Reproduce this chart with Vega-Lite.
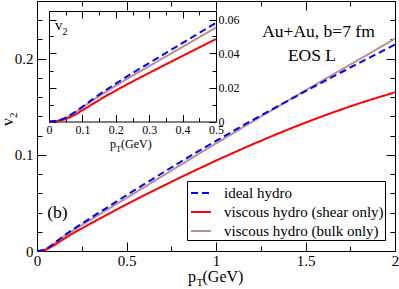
{
  "$schema": "https://vega.github.io/schema/vega-lite/v6.json",
  "width": 358,
  "height": 250,
  "autosize": {"type": "none"},
  "padding": {"left": 37, "top": 1, "right": 4, "bottom": 38},
  "background": "white",
  "config": {
    "view": {"stroke": "black", "strokeWidth": 1},
    "axis": {"grid": false, "labelFont": "Liberation Serif", "labelColor": "black", "tickColor": "black", "domainColor": "black", "tickWidth": 1, "domainWidth": 1, "labelFlush": false, "labelOverlap": false},
    "legend": {"labelFont": "Liberation Serif"},
    "style": {"guide-label": {"font": "Liberation Serif"}},
    "text": {"font": "Liberation Serif", "color": "black"}
  },
  "datasets": {
    "curves": [
      {"pT": 0, "v2": 0, "model": "viscous hydro (bulk only)"},
      {"pT": 0.025, "v2": 0.0005, "model": "viscous hydro (bulk only)"},
      {"pT": 0.05, "v2": 0.0021, "model": "viscous hydro (bulk only)"},
      {"pT": 0.075, "v2": 0.0049, "model": "viscous hydro (bulk only)"},
      {"pT": 0.1, "v2": 0.0082, "model": "viscous hydro (bulk only)"},
      {"pT": 0.125, "v2": 0.0116, "model": "viscous hydro (bulk only)"},
      {"pT": 0.15, "v2": 0.0149, "model": "viscous hydro (bulk only)"},
      {"pT": 0.2, "v2": 0.0210, "model": "viscous hydro (bulk only)"},
      {"pT": 0.25, "v2": 0.0269, "model": "viscous hydro (bulk only)"},
      {"pT": 0.3, "v2": 0.0326, "model": "viscous hydro (bulk only)"},
      {"pT": 0.4, "v2": 0.0439, "model": "viscous hydro (bulk only)"},
      {"pT": 0.5, "v2": 0.0552, "model": "viscous hydro (bulk only)"},
      {"pT": 0.6, "v2": 0.0665, "model": "viscous hydro (bulk only)"},
      {"pT": 0.7, "v2": 0.0779, "model": "viscous hydro (bulk only)"},
      {"pT": 0.8, "v2": 0.0893, "model": "viscous hydro (bulk only)"},
      {"pT": 0.9, "v2": 0.1006, "model": "viscous hydro (bulk only)"},
      {"pT": 1.0, "v2": 0.1118, "model": "viscous hydro (bulk only)"},
      {"pT": 1.1, "v2": 0.1230, "model": "viscous hydro (bulk only)"},
      {"pT": 1.2, "v2": 0.1341, "model": "viscous hydro (bulk only)"},
      {"pT": 1.3, "v2": 0.1452, "model": "viscous hydro (bulk only)"},
      {"pT": 1.4, "v2": 0.1561, "model": "viscous hydro (bulk only)"},
      {"pT": 1.5, "v2": 0.1670, "model": "viscous hydro (bulk only)"},
      {"pT": 1.6, "v2": 0.1778, "model": "viscous hydro (bulk only)"},
      {"pT": 1.7, "v2": 0.1886, "model": "viscous hydro (bulk only)"},
      {"pT": 1.8, "v2": 0.1993, "model": "viscous hydro (bulk only)"},
      {"pT": 1.9, "v2": 0.2100, "model": "viscous hydro (bulk only)"},
      {"pT": 2.0, "v2": 0.2207, "model": "viscous hydro (bulk only)"},
      {"pT": 0, "v2": 0, "model": "viscous hydro (shear only)"},
      {"pT": 0.025, "v2": 0.0003, "model": "viscous hydro (shear only)"},
      {"pT": 0.05, "v2": 0.0015, "model": "viscous hydro (shear only)"},
      {"pT": 0.075, "v2": 0.0037, "model": "viscous hydro (shear only)"},
      {"pT": 0.1, "v2": 0.0066, "model": "viscous hydro (shear only)"},
      {"pT": 0.125, "v2": 0.0096, "model": "viscous hydro (shear only)"},
      {"pT": 0.15, "v2": 0.0126, "model": "viscous hydro (shear only)"},
      {"pT": 0.2, "v2": 0.0182, "model": "viscous hydro (shear only)"},
      {"pT": 0.25, "v2": 0.0235, "model": "viscous hydro (shear only)"},
      {"pT": 0.3, "v2": 0.0286, "model": "viscous hydro (shear only)"},
      {"pT": 0.4, "v2": 0.0386, "model": "viscous hydro (shear only)"},
      {"pT": 0.5, "v2": 0.0485, "model": "viscous hydro (shear only)"},
      {"pT": 0.6, "v2": 0.0580, "model": "viscous hydro (shear only)"},
      {"pT": 0.7, "v2": 0.0673, "model": "viscous hydro (shear only)"},
      {"pT": 0.8, "v2": 0.0764, "model": "viscous hydro (shear only)"},
      {"pT": 0.9, "v2": 0.0853, "model": "viscous hydro (shear only)"},
      {"pT": 1.0, "v2": 0.0940, "model": "viscous hydro (shear only)"},
      {"pT": 1.1, "v2": 0.1024, "model": "viscous hydro (shear only)"},
      {"pT": 1.2, "v2": 0.1106, "model": "viscous hydro (shear only)"},
      {"pT": 1.3, "v2": 0.1185, "model": "viscous hydro (shear only)"},
      {"pT": 1.4, "v2": 0.1262, "model": "viscous hydro (shear only)"},
      {"pT": 1.5, "v2": 0.1335, "model": "viscous hydro (shear only)"},
      {"pT": 1.6, "v2": 0.1405, "model": "viscous hydro (shear only)"},
      {"pT": 1.7, "v2": 0.1472, "model": "viscous hydro (shear only)"},
      {"pT": 1.8, "v2": 0.1535, "model": "viscous hydro (shear only)"},
      {"pT": 1.9, "v2": 0.1594, "model": "viscous hydro (shear only)"},
      {"pT": 2.0, "v2": 0.1650, "model": "viscous hydro (shear only)"},
      {"pT": 0, "v2": 0, "model": "ideal hydro"},
      {"pT": 0.025, "v2": 0.0005, "model": "ideal hydro"},
      {"pT": 0.05, "v2": 0.0023, "model": "ideal hydro"},
      {"pT": 0.075, "v2": 0.0052, "model": "ideal hydro"},
      {"pT": 0.1, "v2": 0.0087, "model": "ideal hydro"},
      {"pT": 0.125, "v2": 0.0123, "model": "ideal hydro"},
      {"pT": 0.15, "v2": 0.0158, "model": "ideal hydro"},
      {"pT": 0.2, "v2": 0.0223, "model": "ideal hydro"},
      {"pT": 0.25, "v2": 0.0285, "model": "ideal hydro"},
      {"pT": 0.3, "v2": 0.0344, "model": "ideal hydro"},
      {"pT": 0.4, "v2": 0.0462, "model": "ideal hydro"},
      {"pT": 0.5, "v2": 0.0580, "model": "ideal hydro"},
      {"pT": 0.6, "v2": 0.0696, "model": "ideal hydro"},
      {"pT": 0.7, "v2": 0.0811, "model": "ideal hydro"},
      {"pT": 0.8, "v2": 0.0925, "model": "ideal hydro"},
      {"pT": 0.9, "v2": 0.1036, "model": "ideal hydro"},
      {"pT": 1.0, "v2": 0.1145, "model": "ideal hydro"},
      {"pT": 1.1, "v2": 0.1252, "model": "ideal hydro"},
      {"pT": 1.2, "v2": 0.1357, "model": "ideal hydro"},
      {"pT": 1.3, "v2": 0.1460, "model": "ideal hydro"},
      {"pT": 1.4, "v2": 0.1562, "model": "ideal hydro"},
      {"pT": 1.5, "v2": 0.1662, "model": "ideal hydro"},
      {"pT": 1.6, "v2": 0.1761, "model": "ideal hydro"},
      {"pT": 1.7, "v2": 0.1859, "model": "ideal hydro"},
      {"pT": 1.8, "v2": 0.1956, "model": "ideal hydro"},
      {"pT": 1.9, "v2": 0.2052, "model": "ideal hydro"},
      {"pT": 2.0, "v2": 0.2147, "model": "ideal hydro"}
    ]
  },
  "layer": [
    {
      "layer": [
        {
          "data": {"name": "curves"},
          "mark": {"type": "line", "strokeWidth": 2, "interpolate": "monotone"},
          "encoding": {
            "x": {"field": "pT", "type": "quantitative", "scale": {"domain": [0, 2]},
              "axis": {"orient": "bottom", "title": null, "values": [0, 0.25, 0.5, 0.75, 1, 1.25, 1.5, 1.75, 2], "format": "~g",
                "labelExpr": "datum.value*2 == round(datum.value*2) ? datum.label : ''",
                "tickSize": {"condition": {"test": "datum.value*2 == round(datum.value*2)", "value": -9}, "value": -5},
                "domain": false, "labelFont": "Liberation Serif", "labelFontSize": 15, "labelPadding": 11, "labelFlush": false, "labelOverlap": false}},
            "y": {"field": "v2", "type": "quantitative", "scale": {"domain": [0, 0.26]},
              "axis": {"orient": "left", "title": null, "values": [0, 0.02, 0.04, 0.06, 0.08, 0.1, 0.12, 0.14, 0.16, 0.18, 0.2, 0.22, 0.24], "format": "~g",
                "labelExpr": "abs(datum.value*10 - round(datum.value*10)) < 1e-6 ? datum.label : ''",
                "tickSize": {"condition": {"test": "abs(datum.value*10 - round(datum.value*10)) < 1e-6", "value": -9}, "value": -5},
                "domain": false, "labelFont": "Liberation Serif", "labelFontSize": 15, "labelPadding": 13, "labelFlush": false, "labelOverlap": false}},
            "color": {"field": "model", "type": "nominal",
              "scale": {"domain": ["ideal hydro", "viscous hydro (shear only)", "viscous hydro (bulk only)"], "range": ["#0000ff", "#ff0000", "#bc8f8f"]},
              "legend": {"orient": "none", "legendX": 150, "legendY": 180, "title": null, "symbolType": "stroke", "symbolSize": 400, "symbolStrokeWidth": 2, "symbolOffset": 2,
                "labelFont": "Liberation Serif", "labelFontSize": 15, "labelColor": "black", "labelLimit": 300, "strokeColor": "black", "fillColor": "white",
                "padding": 1, "rowPadding": 0, "labelOffset": 12}},
            "strokeDash": {"field": "model", "type": "nominal",
              "scale": {"domain": ["ideal hydro", "viscous hydro (shear only)", "viscous hydro (bulk only)"], "range": [[7, 4], [1, 0], [1, 0]]},
              "legend": {"orient": "none", "legendX": 150, "legendY": 180, "title": null, "symbolType": "stroke", "symbolSize": 400, "symbolStrokeWidth": 2, "symbolOffset": 2,
                "labelFont": "Liberation Serif", "labelFontSize": 15, "labelColor": "black", "labelLimit": 300, "strokeColor": "black", "fillColor": "white",
                "padding": 1, "rowPadding": 0, "labelOffset": 12}}
          }
        },
        {
          "data": {"name": "curves"},
          "mark": {"type": "point", "opacity": 0},
          "encoding": {
            "x": {"field": "pT", "type": "quantitative", "scale": {"domain": [0, 2]},
              "axis": {"orient": "top", "title": null, "values": [0, 0.25, 0.5, 0.75, 1, 1.25, 1.5, 1.75, 2], "labels": false,
                "tickSize": {"condition": {"test": "datum.value*2 == round(datum.value*2)", "value": -9}, "value": -5}, "domain": false}},
            "y": {"field": "v2", "type": "quantitative", "scale": {"domain": [0, 0.26]},
              "axis": {"orient": "right", "title": null, "values": [0, 0.02, 0.04, 0.06, 0.08, 0.1, 0.12, 0.14, 0.16, 0.18, 0.2, 0.22, 0.24], "labels": false,
                "tickSize": {"condition": {"test": "abs(datum.value*10 - round(datum.value*10)) < 1e-6", "value": -9}, "value": -5}, "domain": false}}
          }
        },
        {
          "data": {"values": [{"label": "Au+Au, b=7 fm"}]},
          "mark": {"type": "text", "fontSize": 17.5, "align": "center", "baseline": "alphabetic"},
          "encoding": {"x": {"datum": 1.5726, "axis": null}, "y": {"datum": 0.2223, "axis": null}, "text": {"field": "label"}}
        },
        {
          "data": {"values": [{"label": "EOS L"}]},
          "mark": {"type": "text", "fontSize": 17.5, "align": "center", "baseline": "alphabetic"},
          "encoding": {"x": {"datum": 1.536, "axis": null}, "y": {"datum": 0.1976, "axis": null}, "text": {"field": "label"}}
        },
        {
          "data": {"values": [{"label": "(b)"}]},
          "mark": {"type": "text", "fontSize": 17.5, "align": "center", "baseline": "alphabetic"},
          "encoding": {"x": {"datum": 0.1145, "axis": null}, "y": {"datum": 0.0348, "axis": null}, "text": {"field": "label"}}
        },
        {
          "data": {"values": [{"label": "p"}]},
          "mark": {"type": "text", "fontSize": 16, "align": "left", "baseline": "alphabetic", "dx": -28},
          "encoding": {"x": {"datum": 1, "axis": null}, "y": {"datum": -0.0322, "axis": null}, "text": {"field": "label"}}
        },
        {
          "data": {"values": [{"label": "T"}]},
          "mark": {"type": "text", "fontSize": 11, "align": "left", "baseline": "alphabetic", "dx": -19.5, "dy": 4.5},
          "encoding": {"x": {"datum": 1, "axis": null}, "y": {"datum": -0.0322, "axis": null}, "text": {"field": "label"}}
        },
        {
          "data": {"values": [{"label": "(GeV)"}]},
          "mark": {"type": "text", "fontSize": 16, "align": "left", "baseline": "alphabetic", "dx": -13.5},
          "encoding": {"x": {"datum": 1, "axis": null}, "y": {"datum": -0.0322, "axis": null}, "text": {"field": "label"}}
        },
        {
          "data": {"values": [{"label": "v"}]},
          "mark": {"type": "text", "fontSize": 16, "align": "left", "baseline": "alphabetic", "angle": 270},
          "encoding": {"x": {"datum": -0.134, "axis": null}, "y": {"datum": 0.130, "axis": null}, "text": {"field": "label"}}
        },
        {
          "data": {"values": [{"label": "2"}]},
          "mark": {"type": "text", "fontSize": 11, "align": "left", "baseline": "alphabetic", "angle": 270, "dx": 8, "dy": 3.5},
          "encoding": {"x": {"datum": -0.134, "axis": null}, "y": {"datum": 0.130, "axis": null}, "text": {"field": "label"}}
        }
      ]
    },
    {
      "layer": [
        {
          "data": {"name": "curves"},
          "transform": [{"filter": "datum.pT <= 0.5"}],
          "mark": {"type": "line", "strokeWidth": 2, "interpolate": "monotone"},
          "encoding": {
            "x": {"field": "pT", "type": "quantitative", "scale": {"domain": [0, 0.5], "range": [12, 179]},
              "axis": {"orient": "bottom", "offset": -129.5, "title": null, "values": [0, 0.05, 0.1, 0.15, 0.2, 0.25, 0.3, 0.35, 0.4, 0.45, 0.5], "format": "~g",
                "labelExpr": "abs(datum.value*10 - round(datum.value*10)) < 1e-6 ? datum.label : ''",
                "tickSize": {"condition": {"test": "abs(datum.value*10 - round(datum.value*10)) < 1e-6", "value": -7}, "value": -4},
                "domain": true, "labelFont": "Liberation Serif", "labelFontSize": 12, "labelPadding": 10, "labelFlush": false, "labelOverlap": false}},
            "y": {"field": "v2", "type": "quantitative", "scale": {"domain": [0, 0.062], "range": [120.5, 10]},
              "axis": {"orient": "left", "offset": -12, "title": null, "values": [0, 0.01, 0.02, 0.03, 0.04, 0.05, 0.06], "labels": false,
                "tickSize": {"condition": {"test": "abs(datum.value*50 - round(datum.value*50)) < 1e-6", "value": -7}, "value": -4},
                "domain": true}},
            "color": {"field": "model", "type": "nominal",
              "scale": {"domain": ["ideal hydro", "viscous hydro (shear only)", "viscous hydro (bulk only)"], "range": ["#0000ff", "#ff0000", "#bc8f8f"]},
              "legend": null},
            "strokeDash": {"field": "model", "type": "nominal",
              "scale": {"domain": ["ideal hydro", "viscous hydro (shear only)", "viscous hydro (bulk only)"], "range": [[7, 4], [1, 0], [1, 0]]},
              "legend": null}
          }
        },
        {
          "data": {"name": "curves"},
          "transform": [{"filter": "datum.pT <= 0.5"}],
          "mark": {"type": "point", "opacity": 0},
          "encoding": {
            "x": {"field": "pT", "type": "quantitative", "scale": {"domain": [0, 0.5], "range": [12, 179]},
              "axis": {"orient": "top", "offset": -10, "title": null, "values": [0, 0.05, 0.1, 0.15, 0.2, 0.25, 0.3, 0.35, 0.4, 0.45, 0.5], "labels": false,
                "tickSize": {"condition": {"test": "abs(datum.value*10 - round(datum.value*10)) < 1e-6", "value": -7}, "value": -4},
                "domain": true}},
            "y": {"field": "v2", "type": "quantitative", "scale": {"domain": [0, 0.062], "range": [120.5, 10]},
              "axis": {"orient": "right", "offset": -179, "title": null, "values": [0, 0.01, 0.02, 0.03, 0.04, 0.05, 0.06], "format": "~g",
                "labelExpr": "abs(datum.value*50 - round(datum.value*50)) < 1e-6 ? datum.label : ''",
                "tickSize": {"condition": {"test": "abs(datum.value*50 - round(datum.value*50)) < 1e-6", "value": -7}, "value": -4},
                "domain": true, "labelFont": "Liberation Serif", "labelFontSize": 12, "labelPadding": 9, "labelFlush": false, "labelOverlap": false}}
          }
        },
        {
          "data": {"values": [{"label": "v"}]},
          "mark": {"type": "text", "fontSize": 15, "align": "left", "baseline": "alphabetic"},
          "encoding": {"x": {"datum": 0.018, "axis": null}, "y": {"datum": 0.0541, "axis": null}, "text": {"field": "label"}}
        },
        {
          "data": {"values": [{"label": "2"}]},
          "mark": {"type": "text", "fontSize": 10, "align": "left", "baseline": "alphabetic", "dx": 7.5, "dy": 5},
          "encoding": {"x": {"datum": 0.018, "axis": null}, "y": {"datum": 0.0541, "axis": null}, "text": {"field": "label"}}
        },
        {
          "data": {"values": [{"label": "p"}]},
          "mark": {"type": "text", "fontSize": 12, "align": "left", "baseline": "alphabetic", "dx": -22.5},
          "encoding": {"x": {"datum": 0.25, "axis": null}, "y": {"datum": -0.0157, "axis": null}, "text": {"field": "label"}}
        },
        {
          "data": {"values": [{"label": "T"}]},
          "mark": {"type": "text", "fontSize": 8.5, "align": "left", "baseline": "alphabetic", "dx": -16.5, "dy": 3.5},
          "encoding": {"x": {"datum": 0.25, "axis": null}, "y": {"datum": -0.0157, "axis": null}, "text": {"field": "label"}}
        },
        {
          "data": {"values": [{"label": "(GeV)"}]},
          "mark": {"type": "text", "fontSize": 12, "align": "left", "baseline": "alphabetic", "dx": -11.5},
          "encoding": {"x": {"datum": 0.25, "axis": null}, "y": {"datum": -0.0157, "axis": null}, "text": {"field": "label"}}
        }
      ]
    }
  ],
  "resolve": {"scale": {"x": "independent", "y": "independent"}}
}
